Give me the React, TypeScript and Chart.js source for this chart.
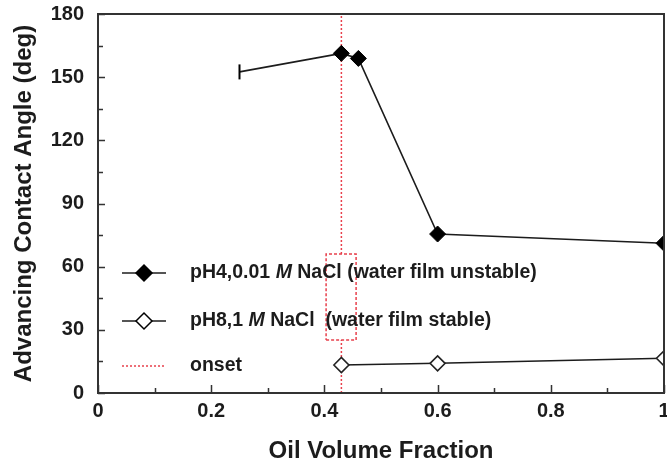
import React, { useEffect, useRef } from 'react';
import { Chart, registerables } from 'chart.js';

Chart.register(...registerables);

// ---- data ----
const xTickStep = 0.2;
const xMinorStep = 0.1;
const yTickStep = 30;
const yMinorStep = 15;
const xRange = [0, 1];
const yRange = [0, 180];

const unstableX = [0.25, 0.43, 0.46, 0.6, 1.0];
const unstableY = [152.5, 161.3, 158.9, 75.5, 71.1];

const stableX = [0.43, 0.6, 1.0];
const stableY = [13.3, 14.1, 16.5];

const onsetX = 0.43;
const highlightBoxX = [0.403, 0.456];
const highlightBoxY = [25.2, 66];

const legendUnstable = [['pH4,0.01 ', false], ['M', true], [' NaCl (water film unstable)', false]];
const legendStable = [['pH8,1 ', false], ['M', true], [' NaCl  (water film stable)', false]];
const legendOnset = [['onset', false]];

const xTitle = 'Oil Volume Fraction';
const yTitle = 'Advancing Contact Angle (deg)';

const FONT = 'Arial, "Liberation Sans", sans-serif';
const INK = '#1c1c1c';
const RED = '#e8404c';

const zeroPadding = (scale: any) => {
  scale.paddingLeft = 0;
  scale.paddingRight = 0;
  scale.paddingTop = 0;
  scale.paddingBottom = 0;
  scale.getPadding = () => ({ left: 0, right: 0, top: 0, bottom: 0 });
};

const framePlugin = {
  id: 'framePlugin',
  afterDraw(chart: any) {
    const { ctx, chartArea } = chart;
    const xs = chart.scales.x;
    const ys = chart.scales.y;
    ctx.save();
    // frame
    ctx.strokeStyle = '#333';
    ctx.lineWidth = 2;
    ctx.strokeRect(chartArea.left, chartArea.top, chartArea.right - chartArea.left, chartArea.bottom - chartArea.top);
    // inward ticks
    ctx.lineWidth = 1.5;
    ctx.beginPath();
    const nx = Math.round((xRange[1] - xRange[0]) / xMinorStep);
    for (let i = 0; i <= nx; i++) {
      const v = xRange[0] + i * xMinorStep;
      const major = i % Math.round(xTickStep / xMinorStep) === 0;
      const px = Math.round(xs.getPixelForValue(v)) + 0.5;
      ctx.moveTo(px, chartArea.bottom);
      ctx.lineTo(px, chartArea.bottom - (major ? 8 : 5));
    }
    const ny = Math.round((yRange[1] - yRange[0]) / yMinorStep);
    for (let i = 0; i <= ny; i++) {
      const v = yRange[0] + i * yMinorStep;
      const major = i % Math.round(yTickStep / yMinorStep) === 0;
      const py = Math.round(ys.getPixelForValue(v)) + 0.5;
      ctx.moveTo(chartArea.left, py);
      ctx.lineTo(chartArea.left + (major ? 7 : 5), py);
    }
    ctx.stroke();

    // legend
    const rows = [
      { parts: legendUnstable, y: 273, kind: 'filled' },
      { parts: legendStable, y: 321, kind: 'open' },
      { parts: legendOnset, y: 366, kind: 'onset' },
    ];
    const lx0 = 122, lx1 = 166, mx = 144, tx = 190;
    const fs = 19.5;
    rows.forEach((r: any) => {
      ctx.save();
      if (r.kind === 'onset') {
        ctx.strokeStyle = RED;
        ctx.lineWidth = 1.5;
        ctx.setLineDash([2, 2]);
      } else {
        ctx.strokeStyle = INK;
        ctx.lineWidth = 1.5;
      }
      ctx.beginPath();
      ctx.moveTo(lx0, r.y);
      ctx.lineTo(lx1, r.y);
      ctx.stroke();
      ctx.setLineDash([]);
      if (r.kind !== 'onset') {
        const rad = 8;
        ctx.beginPath();
        ctx.moveTo(mx - rad, r.y);
        ctx.lineTo(mx, r.y - rad);
        ctx.lineTo(mx + rad, r.y);
        ctx.lineTo(mx, r.y + rad);
        ctx.closePath();
        ctx.fillStyle = r.kind === 'filled' ? '#000' : '#fff';
        ctx.fill();
        ctx.lineWidth = 1.5;
        ctx.strokeStyle = '#000';
        ctx.stroke();
      }
      let x = tx;
      ctx.fillStyle = INK;
      ctx.textBaseline = 'middle';
      ctx.textAlign = 'left';
      r.parts.forEach((p: any) => {
        ctx.font = (p[1] ? 'italic ' : '') + 'bold ' + fs + 'px ' + FONT;
        ctx.fillText(p[0], x, r.y);
        x += ctx.measureText(p[0]).width;
      });
      ctx.restore();
    });
    ctx.restore();
  },
};

const fmt = (v: any) => String(Math.round(Number(v) * 100) / 100);

export default function App() {
  const ref = useRef<HTMLCanvasElement | null>(null);
  useEffect(() => {
    if (!ref.current) return;
    const chart = new Chart(ref.current, {
      type: 'line',
      data: {
        datasets: [
          {
            label: 'unstable',
            data: unstableX.map((x, i) => ({ x, y: unstableY[i] })),
            borderColor: INK,
            borderWidth: 1.6,
            pointStyle: ['line', 'rectRot', 'rectRot', 'rectRot', 'rectRot'] as any,
            rotation: [90, 0, 0, 0, 0] as any,
            pointRadius: [7.5, 8, 8, 8, 8] as any,
            pointBorderWidth: [2, 1, 1, 1, 1] as any,
            pointBackgroundColor: '#000',
            pointBorderColor: '#000',
            order: 1,
          },
          {
            label: 'stable',
            data: stableX.map((x, i) => ({ x, y: stableY[i] })),
            borderColor: INK,
            borderWidth: 1.6,
            pointStyle: 'rectRot',
            pointRadius: 7.5,
            pointBorderWidth: 1.6,
            pointBackgroundColor: '#fff',
            pointBorderColor: '#222',
            order: 1,
          },
          {
            label: 'onset',
            data: [
              { x: onsetX, y: yRange[0] },
              { x: onsetX, y: highlightBoxY[0] },
              { x: onsetX, y: null },
              { x: onsetX, y: highlightBoxY[1] },
              { x: onsetX, y: yRange[1] },
            ] as any,
            borderColor: RED,
            borderWidth: 1.5,
            borderDash: [2, 2],
            pointRadius: 0,
            spanGaps: false,
            order: 2,
          },
          {
            label: 'box',
            data: [
              { x: highlightBoxX[0], y: highlightBoxY[0] },
              { x: highlightBoxX[1], y: highlightBoxY[0] },
              { x: highlightBoxX[1], y: highlightBoxY[1] },
              { x: highlightBoxX[0], y: highlightBoxY[1] },
              { x: highlightBoxX[0], y: highlightBoxY[0] },
            ],
            borderColor: RED,
            borderWidth: 1.5,
            borderDash: [3, 2],
            pointRadius: 0,
            order: 0,
          },
        ],
      },
      options: {
        animation: false,
        responsive: false,
        devicePixelRatio: 1,
        layout: { autoPadding: false, padding: { top: 14, right: 3, left: 0, bottom: 0 } },
        plugins: { legend: { display: false }, tooltip: { enabled: false } },
        scales: {
          x: {
            type: 'linear',
            min: xRange[0],
            max: xRange[1],
            ticks: {
              stepSize: xTickStep,
              color: INK,
              font: { family: FONT, size: 20, weight: 'bold' },
              padding: 6,
              maxRotation: 0,
              callback: fmt,
            },
            grid: { drawOnChartArea: false, drawTicks: false },
            border: { display: false },
            title: {
              display: true,
              text: xTitle,
              color: INK,
              font: { family: FONT, size: 24, weight: 'bold' },
              padding: { top: 0, bottom: 3 },
            },
            afterFit(scale: any) {
              scale.height = 76;
              zeroPadding(scale);
            },
          },
          y: {
            type: 'linear',
            min: yRange[0],
            max: yRange[1],
            ticks: {
              stepSize: yTickStep,
              color: INK,
              font: { family: FONT, size: 20, weight: 'bold' },
              padding: 14,
              callback: fmt,
            },
            grid: { drawOnChartArea: false, drawTicks: false },
            border: { display: false },
            title: {
              display: true,
              text: yTitle,
              color: INK,
              font: { family: FONT, size: 24, weight: 'bold' },
              padding: { top: 10, bottom: 0 },
            },
            afterFit(scale: any) {
              scale.width = 98;
              zeroPadding(scale);
            },
          },
        },
      },
      plugins: [framePlugin],
    } as any);
    return () => chart.destroy();
  }, []);
  return (
    <canvas
      ref={ref}
      width={667}
      height={469}
      style={{ position: 'fixed', left: 0, top: 0, display: 'block', background: '#fff' }}
    />
  );
}
